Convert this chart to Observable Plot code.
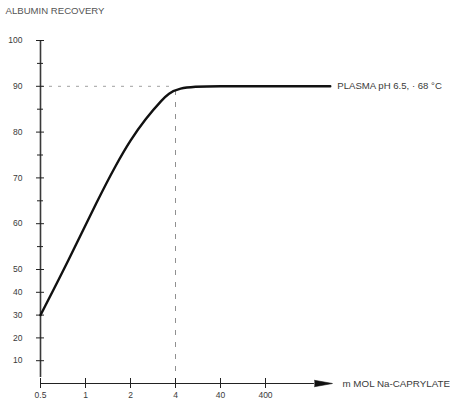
<!DOCTYPE html>
<html>
<head>
<meta charset="utf-8">
<script src="https://cdn.jsdelivr.net/npm/d3@7"></script>
<script src="https://cdn.jsdelivr.net/npm/@observablehq/plot@0.6"></script>
<style>
  html, body { margin: 0; padding: 0; background: #fff; }
  svg { display: block; }
</style>
</head>
<body>
<div id="chart"></div>
<script>
// Data
const concentration = [0.5, 0.77, 1.22, 1.59, 2.0, 2.52, 3.22, 4, 40, 400, 11000];
const recovery      = [30,  52,   65.5, 72.7, 78.3, 82.9, 86.9, 90, 90, 90,  90];
const xTicks = [0.5, 1, 2, 4, 40, 400];
const xTickLabels = ["0.5", "1", "2", "4", "40", "400"];
const yTicks = [10, 20, 30, 40, 50, 60, 70, 80, 90, 100];
const yMinorTicks = [55, 65, 75, 85, 95];
const title = "ALBUMIN RECOVERY";
const xLabel = "m MOL Na-CAPRYLATE";
const seriesLabel = "PLASMA pH 6.5, · 68 °C";
const plateau = 90;
const breakX = 4;
const arrowX = 4900;
const xEnd = 11000;

const data = concentration.map((c, i) => ({c, r: recovery[i]}));
const font = "Liberation Sans, Arial, sans-serif";
const ink = "#3a3a3a";

const chart = Plot.plot({
  width: 450,
  height: 401,
  margin: 0,
  style: {fontFamily: font, background: "#fff"},
  x: {type: "log", domain: [0.5, 4, 400], range: [40, 175, 265], axis: null},
  y: {type: "linear", domain: [0, 50, 100], range: [383, 269, 40], axis: null},
  marks: [
    // reference lines
    Plot.ruleY([plateau], {x1: 0.5, x2: breakX, stroke: "#a0a0a0", strokeWidth: 1, strokeDasharray: "3,6"}),
    Plot.ruleX([breakX], {y1: 0, y2: plateau, stroke: "#909090", strokeWidth: 1, strokeDasharray: "5,7"}),
    // y axis
    Plot.ruleX([0.5], {y1: 0, y2: 100, insetTop: -6, stroke: "#9a9a9a", strokeWidth: 2.2}),
    Plot.ruleX([0.5], {y1: 0, y2: 100, insetTop: -6, stroke: "#222", strokeWidth: 0.8}),
    Plot.ruleY(yTicks, {y: d => d, x1: 0.5, x2: 0.5, insetLeft: -4, insetRight: -4, stroke: "#222", strokeWidth: 1}),
    Plot.ruleY(yMinorTicks, {y: d => d, x1: 0.5, x2: 0.5, insetLeft: -3, insetRight: -3, stroke: "#222", strokeWidth: 1}),
    Plot.text(yTicks, {x: 0.5, y: d => d, text: d => String(d), dx: -18, textAnchor: "end", fontSize: 8.5, fill: ink}),
    // x axis
    Plot.ruleY([0], {x1: 0.5, x2: arrowX, stroke: "#222", strokeWidth: 1}),
    Plot.ruleX(xTicks, {x: d => d, y1: 0, y2: 0, insetTop: -5, insetBottom: -5, stroke: "#222", strokeWidth: 1}),
    Plot.text(xTicks, {x: d => d, y: 0, text: (d, i) => xTickLabels[i], dy: 12, lineAnchor: "middle", fontSize: 8.5, fill: ink}),
    Plot.vector([arrowX], {x: d => d, y: 0, rotate: 90, length: 18, r: 3.2, shape: "spike", anchor: "start", fill: "#111", stroke: "#111", strokeWidth: 0.6}),
    Plot.text([xLabel], {x: arrowX, y: 0, text: d => d, dx: 28, textAnchor: "start", lineAnchor: "middle", fontSize: 9.8, fill: ink}),
    // series
    Plot.line(data, {x: "c", y: "r", curve: "basis", stroke: "#111", strokeWidth: 2.4}),
    Plot.text([seriesLabel], {x: xEnd, y: plateau, text: d => d, dx: 7, textAnchor: "start", lineAnchor: "middle", fontSize: 9.6, fill: ink}),
    // title
    Plot.text([title], {frameAnchor: "top-left", text: d => d, dx: 5, dy: 7, lineAnchor: "top", fontSize: 9.6, fill: "#555"})
  ]
});
document.getElementById("chart").appendChild(chart);
</script>
</body>
</html>
